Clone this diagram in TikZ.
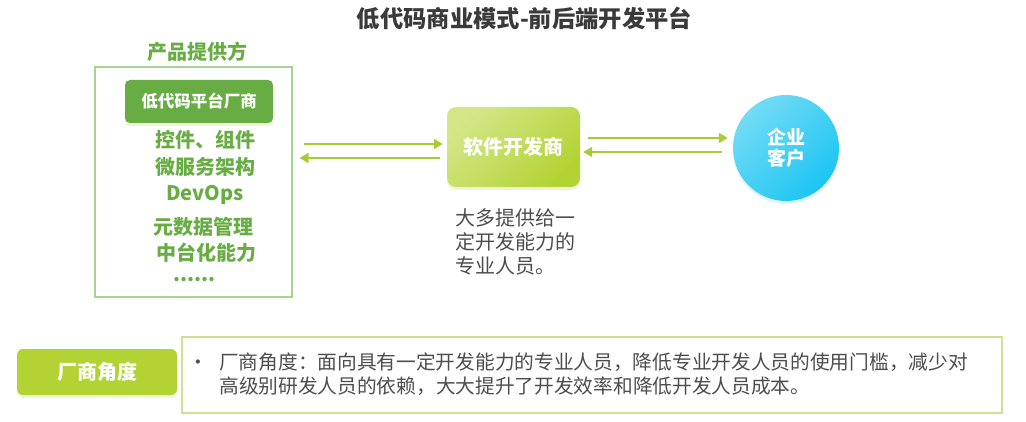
\documentclass[tikz,border=0pt]{standalone}
\usepackage{fontspec}
\setmainfont{Noto Sans CJK SC}
\usepackage{tikz}
\usetikzlibrary{arrows.meta, shapes, calc, shadows}
\definecolor{leafgreen}{HTML}{68AD44}
\definecolor{limegreen}{HTML}{B3D334}
\definecolor{lightlime}{HTML}{D3E688}
\definecolor{arrowlime}{HTML}{A9CC34}
\definecolor{skyblue}{HTML}{1CC5F2}
\definecolor{lightsky}{HTML}{74DBF6}
\definecolor{paleframe}{HTML}{A9D391}
\definecolor{limeframe}{HTML}{CBE294}
\definecolor{textgray}{HTML}{4D4D4D}
\definecolor{titlegray}{HTML}{3A3A3A}
\newcommand{\px}[1]{\fontsize{#1}{#1}\selectfont}

\begin{document}
\begin{tikzpicture}[x=1pt, y=-1pt,
  every node/.style = {inner sep=0pt, align=center},
  flow/.style = {draw=arrowlime, line width=2pt, -{Triangle[length=9pt,width=10pt]}},
  item/.style = {font=\px{20}\bfseries, text=leafgreen},
  glow/.style = {drop shadow={shadow xshift=0pt, shadow yshift=-3pt, fill=#1, opacity=0.35}},
  panel/.style = {rounded corners=#1, text=white, font=\px{20}\bfseries}]
  \useasboundingbox (0,0) rectangle (1026,422);
  \node[font=\px{23.3}\bfseries, text=titlegray] (title) at (524.5,18) {低代码商业模式-前后端开发平台};
  \node[item] (providerlabel) at (197,52) {产品提供方};
  \node[draw=paleframe, line width=1.2pt, minimum width=197pt, minimum height=230pt] (provider) at (193.5,182) {};
  \node[panel=5pt, fill=leafgreen, minimum width=148pt, minimum height=43pt,
    font=\px{16.5}\bfseries, glow=lightlime] (vendor) at (199,101.5) {低代码平台厂商};
  \node[item] (widgets) at (205,140) {控件、组件};
  \node[item] (micro) at (205,167) {微服务架构};
  \node[item] (devops) at (205,195) {DevOps};
  \node[item] (meta) at (203,227) {元数据管理};
  \node[item] (middle) at (206,253) {中台化能力};
  \node[item, anchor=west] (more) at (173,280) {......};
  \node[panel=9pt, minimum width=133pt, minimum height=80pt, top color=lightlime,
    bottom color=limegreen, shading angle=45, glow=lightlime] (dev) at (513.5,147) {软件开发商};
  \node[circle, minimum size=106pt, top color=lightsky, bottom color=skyblue, shading angle=45,
    text=white, font=\fontsize{19}{21}\selectfont\bfseries, glow=skyblue!40] (client) at (786,148) {企业\\客户};
  \node[anchor=west, align=left, font=\fontsize{20}{24}\selectfont, text=textgray] (note) at (455,242)
    {大多提供给一\\定开发能力的\\专业人员。};
  \draw[flow] ($(provider.east |- dev.center)+(11,-3)$) -- ($(dev.west)+(-4,-3)$);
  \draw[flow] ($(dev.west)+(-7,11)$) -- ($(provider.east |- dev.center)+(7,11)$);
  \draw[flow] ($(dev.east)+(8,-9)$) -- ($(client.west |- dev.center)+(-5,-9)$);
  \draw[flow] ($(client.west |- dev.center)+(-11,5)$) -- ($(dev.east)+(3,5)$);
  \node[panel=6pt, fill=limegreen, minimum width=160pt, minimum height=46pt, glow=lightlime] (angle) at (97,372) {厂商角度};
  \node[draw=limeframe, line width=1.2pt, minimum width=820pt, minimum height=76pt] (summary) at (592,375) {};
  \node[anchor=west, font=\fontsize{19.7}{23}\selectfont, text=textgray] (summarytext) at ($(summary.west)+(7,1.5)$)
    {\begin{tabular}{@{}l@{\hspace{11pt}}l@{}}
      • & 厂商角度：面向具有一定开发能力的专业人员，降低专业开发人员的使用门槛，减少对\\
        & 高级别研发人员的依赖，大大提升了开发效率和降低开发人员成本。
    \end{tabular}};
\end{tikzpicture}
\end{document}
